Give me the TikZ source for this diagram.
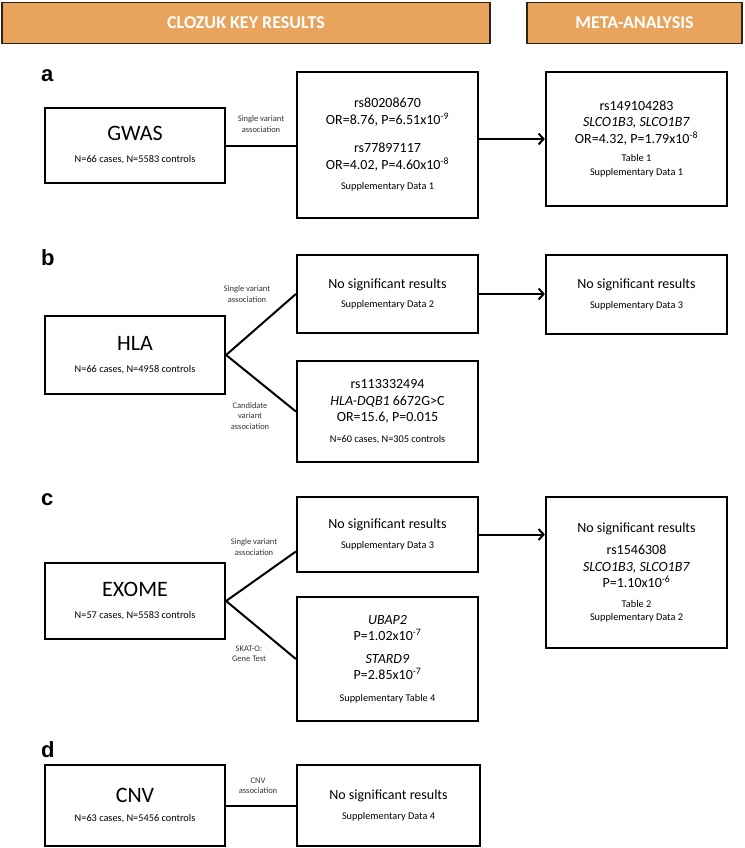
\documentclass[tikz,border=0pt]{standalone}
\usepackage{fontspec}
\setmainfont{Carlito}
\newfontfamily\letterfont{Liberation Sans}
\usetikzlibrary{arrows.meta}
\definecolor{headorange}{RGB}{232,164,92}
\definecolor{headline}{RGB}{45,35,25}
\newcommand{\smalltxt}{\fontsize{10.3}{11}\selectfont}
\newcommand{\bigtxt}{\fontsize{22}{26}\selectfont}

\begin{document}
\begin{tikzpicture}[x=1pt, y=-1pt,
    box/.style={draw, line width=2.2pt, shape=rectangle, align=center, inner sep=0pt, minimum width=181pt, font=\fontsize{14}{16.5}\selectfont},
    studybox/.style={box, minimum width=180pt},
    header/.style={draw=headline, fill=headorange, line width=1.6pt, inner sep=0pt, minimum height=41pt, text=white, font=\fontsize{18}{20}\selectfont\bfseries},
    panel/.style={anchor=base west, inner sep=0pt, font=\letterfont\fontsize{22}{26}\selectfont\bfseries},
    link/.style={line width=2pt},
    arrowlink/.style={link, -{Straight Barb[length=5pt, width=11pt]}},
    linklabel/.style={align=center, inner sep=0pt, text=black!80, font=\fontsize{8.5}{10.5}\selectfont}]
		\useasboundingbox (0,0) rectangle (744,848);

		\node (clozuk) [header, minimum width=488pt] at (246,23) {CLOZUK KEY RESULTS};
		\node (meta) [header, minimum width=215pt] at (634.5,23) {META-ANALYSIS};

		\node (la) [panel] at (41,82) {a};
		\node (gwas) [studybox, minimum height=75pt] at (135,145.5) {\bigtxt GWAS\\[5.5pt] \smalltxt N=66 cases, N=5583 controls};
		\node (amid) [box, minimum height=146pt] at (387.5,145) {rs80208670\\ OR=8.76, P=6.51x10\textsuperscript{-9}\\[12pt] rs77897117\\ OR=4.02, P=4.60x10\textsuperscript{-8}\\[4pt] \smalltxt Supplementary Data 1};
		\node (ameta) [box, minimum height=134pt] at (636.5,139) {rs149104283\\ \textit{SLCO1B3, SLCO1B7}\\ OR=4.32, P=1.79x10\textsuperscript{-8}\\[2pt] \smalltxt Table 1\\[-3pt] \smalltxt Supplementary Data 1};
		\node (lsva) [linklabel] at (261,124) {Single variant\\association};

		\node (lb) [panel] at (41,265) {b};
		\node (hla) [studybox, minimum height=78pt] at (135,355) {\bigtxt HLA\\[5.5pt] \smalltxt N=66 cases, N=4958 controls};
		\node (bno) [box, minimum height=78pt] at (387.5,294) {No significant results\\[3pt] \smalltxt Supplementary Data 2};
		\node (bcand) [box, minimum height=101pt] at (387.5,411.5) {rs113332494\\ \textit{HLA-DQB1} 6672G>C\\ OR=15.6, P=0.015\\[4pt] \smalltxt N=60 cases, N=305 controls};
		\node (bmeta) [box, minimum height=79pt] at (636.5,294.5) {No significant results\\[3pt] \smalltxt Supplementary Data 3};
		\node (lsvb) [linklabel] at (247,294) {Single variant\\association};
		\node (lcand) [linklabel] at (250,416) {Candidate\\variant\\association};

		\node (lc) [panel] at (41,505) {c};
		\node (exome) [studybox, minimum height=76pt] at (135,601) {\bigtxt EXOME\\[5.5pt] \smalltxt N=57 cases, N=5583 controls};
		\node (cno) [box, minimum height=75pt] at (387.5,534.5) {No significant results\\[3pt] \smalltxt Supplementary Data 3};
		\node (cskat) [box, minimum height=124pt] at (387.5,659) {\textit{UBAP2}\\ P=1.02x10\textsuperscript{-7}\\[6pt] \textit{STARD9}\\ P=2.85x10\textsuperscript{-7}\\[5pt] \smalltxt Supplementary Table 4};
		\node (cmeta) [box, minimum height=151pt] at (636.5,572.5) {No significant results\\[6pt] rs1546308\\ \textit{SLCO1B3, SLCO1B7}\\ P=1.10x10\textsuperscript{-6}\\[3pt] \smalltxt Table 2\\[-3pt] \smalltxt Supplementary Data 2};
		\node (lsvc) [linklabel] at (254,547) {Single variant\\association};
		\node (lskat) [linklabel] at (249,654) {SKAT-O:\\Gene Test};

		\node (ld) [panel] at (41,757) {d};
		\node (cnv) [studybox, minimum height=81pt] at (135,805.5) {\bigtxt CNV\\[3pt] \smalltxt N=63 cases, N=5456 controls};
		\node (dno) [box, minimum height=81pt, minimum width=183pt] at (388.5,805.5) {No significant results\\[3pt] \smalltxt Supplementary Data 4};
		\node (lcnv) [linklabel] at (258,786) {CNV\\association};

		\draw [link]      (gwas.east) -- (gwas.east -| amid.west);
		\draw [arrowlink] (amid.east |- ameta.west) -- (ameta.west);
		\draw [link]      (hla.east) -- (bno.west);
		\draw [link]      (hla.east) -- (bcand.west);
		\draw [arrowlink] (bno.east) -- (bno.east -| bmeta.west);
		\draw [link]      (exome.east) -- ([yshift=-17pt]cno.west);
		\draw [link]      (exome.east) -- (cskat.west);
		\draw [arrowlink] (cno.east) -- (cno.east -| cmeta.west);
		\draw [link]      (cnv.east) -- (cnv.east -| dno.west);
\end{tikzpicture}
\end{document}
